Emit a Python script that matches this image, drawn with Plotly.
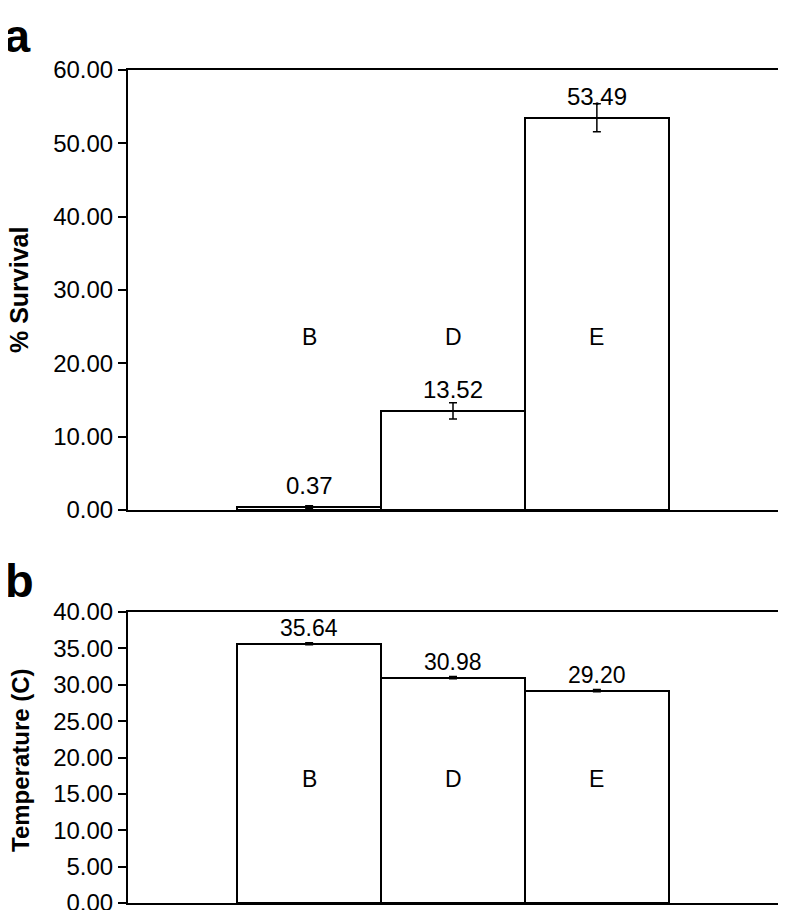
import plotly.graph_objects as go

SITIOS = ["B", "D", "E"]
SUPERVIVENCIA = [0.37, 13.52, 53.49]
SUPERVIVENCIA_ERR = [0.2, 1.1, 1.9]
TEMPERATURA = [35.64, 30.98, 29.20]
TEMPERATURA_ERR = [0.15, 0.15, 0.15]

# la pagina agrega 8 px de margen; la figura se ajusta para caber sin scroll
MARGEN_PAGINA = 8
ANCHO = 786 - 2 * MARGEN_PAGINA
ALTO = 918 - 2 * MARGEN_PAGINA
FUENTE = "Liberation Sans, Arial, sans-serif"
X_RANGO = [-1.259, 3.259]


def px_x(x):
    return min((x - MARGEN_PAGINA) / ANCHO, 1)


def px_y(y):
    return 1 - (y - MARGEN_PAGINA) / ALTO


def barra(valores, errores, xaxis, yaxis):
    return go.Bar(
        x=list(range(len(SITIOS))),
        y=valores,
        width=1,
        marker=dict(color="white", line=dict(color="black", width=2)),
        error_y=dict(type="data", array=errores, color="black", thickness=1.5, width=4),
        xaxis=xaxis,
        yaxis=yaxis,
        hoverinfo="skip",
    )


def texto_papel(x, y, texto, tam, angulo=0):
    return dict(x=px_x(x), y=px_y(y), xref="paper", yref="paper", text=texto,
                showarrow=False, xanchor="center", yanchor="middle", textangle=angulo,
                font=dict(size=tam, color="black"))


fig = go.Figure()
fig.add_trace(barra(SUPERVIVENCIA, SUPERVIVENCIA_ERR, "x", "y"))
fig.add_trace(barra(TEMPERATURA, TEMPERATURA_ERR, "x2", "y2"))

anotaciones = []
for i, (s, v) in enumerate(zip(SITIOS, SUPERVIVENCIA)):
    anotaciones.append(dict(x=i, y=v, xref="x", yref="y", text=f"{v:.2f}", showarrow=False,
                            yanchor="bottom", yshift=6, font=dict(size=24, color="black")))
    anotaciones.append(dict(x=i, y=23.6, xref="x", yref="y", text=s, showarrow=False,
                            font=dict(size=23, color="black")))
for i, (s, v) in enumerate(zip(SITIOS, TEMPERATURA)):
    anotaciones.append(dict(x=i, y=v, xref="x2", yref="y2", text=f"{v:.2f}", showarrow=False,
                            yanchor="bottom", yshift=1, font=dict(size=23, color="black")))
    anotaciones.append(dict(x=i, y=17, xref="x2", yref="y2", text=s, showarrow=False,
                            font=dict(size=23, color="black")))

anotaciones += [
    texto_papel(17, 36, "<b>a</b>", 47),
    texto_papel(19, 580, "<b>b</b>", 47),
    texto_papel(19, 290, "<b>% Survival</b>", 25, -90),
    texto_papel(20, 760, "<b>Temperature (C)</b>", 24, -90),
]

eje_x = dict(range=X_RANGO, showticklabels=False, ticks="", showgrid=False, zeroline=False,
             showline=True, linecolor="black", linewidth=2, mirror=True, automargin=False)
eje_y = dict(showgrid=False, zeroline=False, showline=True, linecolor="black", linewidth=2,
             mirror=True, ticks="outside", ticklen=8, tickwidth=1.5, tickcolor="black",
             tickformat=".2f", tickfont=dict(size=24, color="black"), automargin=False,
             ticklabeloverflow="allow")

fig.update_layout(
    width=ANCHO,
    height=ALTO,
    margin=dict(l=0, r=0, t=0, b=0),
    showlegend=False,
    plot_bgcolor="white",
    paper_bgcolor="white",
    font=dict(family=FUENTE, color="black"),
    bargap=0,
    xaxis=dict(eje_x, domain=[px_x(128), px_x(781)], anchor="y"),
    yaxis=dict(eje_y, domain=[px_y(510), px_y(70)], range=[0, 60], dtick=10, anchor="x"),
    xaxis2=dict(eje_x, domain=[px_x(128), px_x(781)], anchor="y2"),
    yaxis2=dict(eje_y, domain=[px_y(903), px_y(612)], range=[0, 40], dtick=5, anchor="x2"),
    annotations=anotaciones,
)

fig.write_html("out.html")
